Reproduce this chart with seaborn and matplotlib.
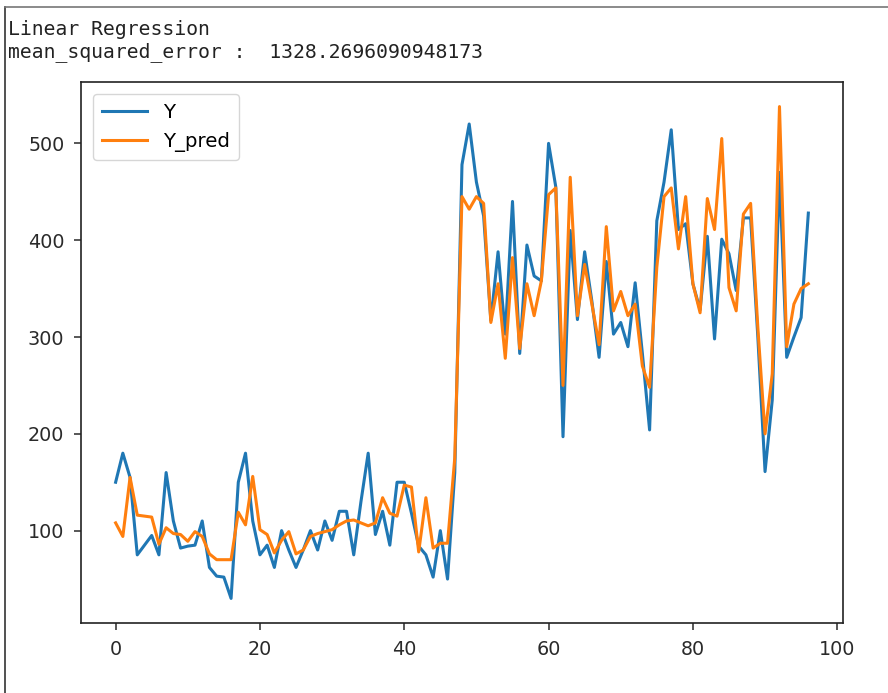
import numpy as np
import pandas as pd
import matplotlib
matplotlib.use("Agg")
import matplotlib.pyplot as plt
import seaborn as sns
from matplotlib.lines import Line2D

# ---- data ----
y_true = [150, 180, 155, 75, 85, 95, 75, 160, 110, 82,
          84, 85, 110, 62, 53, 52, 30, 150, 180, 110,
          75, 85, 62, 100, 80, 62, 80, 100, 80, 110,
          90, 120, 120, 75, 130, 180, 96, 120, 85, 150,
          150, 118, 84, 75, 52, 100, 50, 160, 478, 520,
          460, 425, 317, 388, 303, 440, 283, 395, 363, 358,
          500, 455, 197, 410, 318, 388, 337, 279, 378, 303,
          315, 290, 356, 283, 204, 420, 460, 514, 411, 417,
          355, 328, 404, 298, 401, 386, 348, 423, 423, 300,
          161, 235, 470, 279, 300, 320, 428]
y_pred = [108, 94, 155, 116, 115, 114, 86, 103, 97, 96,
          89, 99, 94, 76, 70, 70, 70, 119, 106, 156,
          101, 96, 77, 90, 99, 76, 80, 94, 97, 99,
          101, 106, 110, 111, 108, 105, 108, 134, 118, 115,
          147, 145, 78, 134, 82, 87, 87, 175, 445, 432,
          445, 438, 315, 355, 278, 382, 288, 355, 322, 358,
          447, 454, 250, 465, 322, 375, 334, 292, 414, 327,
          347, 322, 334, 270, 248, 372, 445, 454, 391, 445,
          355, 325, 443, 411, 505, 351, 327, 427, 438, 310,
          200, 262, 538, 290, 334, 350, 355]
series_names = ["Y", "Y_pred"]
header_lines = ["Linear Regression", "mean_squared_error :  1328.2696090948173"]

idx = np.arange(len(y_true))
df = pd.DataFrame({
    "index": np.concatenate([idx, idx]),
    "value": y_true + y_pred,
    "series": [series_names[0]] * len(y_true) + [series_names[1]] * len(y_pred),
})

fig = plt.figure(figsize=(8.88, 6.93), dpi=100)
ax = fig.add_axes([0.0912, 0.1010, 0.8581, 0.7807])

palette = {"Y": "#1f77b4", "Y_pred": "#ff7f0e"}
sns.lineplot(data=df, x="index", y="value", hue="series", palette=palette,
             ax=ax, linewidth=2.2, legend=False)

ax.set_xlabel("")
ax.set_ylabel("")
ax.set_xticks([0, 20, 40, 60, 80, 100])
ax.set_yticks([100, 200, 300, 400, 500])
ax.tick_params(labelsize=13.8, length=5, width=1.1, colors="#2a2a2a", pad=7)
for s in ax.spines.values():
    s.set_linewidth(1.2)
    s.set_color("#222222")
ax.margins(x=0.05, y=0.05)

handles = [Line2D([0], [0], color=palette[n], lw=2.2) for n in series_names]
ax.legend(handles, series_names, loc="upper left", fontsize=14.2,
          handlelength=2.3, framealpha=0.8, borderaxespad=0.6, borderpad=0.45)

# header text (notebook output style)
fig.text(7.5 / 888, 1 - 35 / 693, header_lines[0], family="DejaVu Sans Mono",
         fontsize=14.2, color="#222222", va="baseline", ha="left")
fig.text(7.5 / 888, 1 - 57.5 / 693, header_lines[1], family="DejaVu Sans Mono",
         fontsize=14.2, color="#222222", va="baseline", ha="left")

# border of the output cell (left and top edges)
fig.add_artist(Line2D([5 / 888, 5 / 888], [0, 1 - 7 / 693], transform=fig.transFigure,
                      color="#333333", lw=1.2))
fig.add_artist(Line2D([5 / 888, 1], [1 - 7 / 693, 1 - 7 / 693], transform=fig.transFigure,
                      color="#777777", lw=1.2))

fig.savefig("out.png", dpi=100)
